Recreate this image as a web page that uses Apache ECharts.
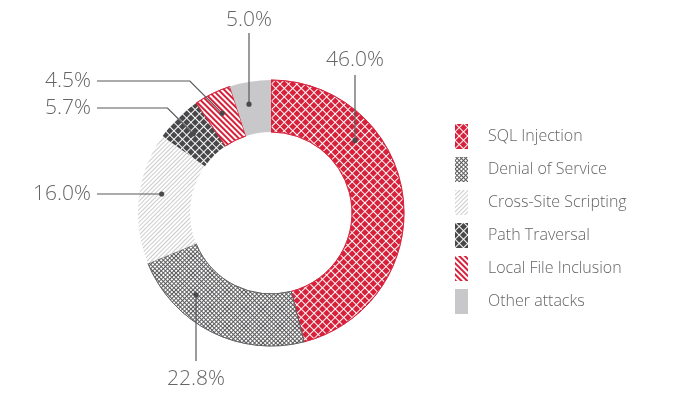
<!DOCTYPE html>
<html>
<head>
<meta charset="utf-8">
<script src="https://cdn.jsdelivr.net/npm/echarts@6/dist/echarts.min.js"></script>
<style>
  html, body { margin: 0; padding: 0; background: #fff; }
  #chart { width: 674px; height: 407px; }
</style>
</head>
<body>
<div id="chart"></div>
<script>
const categories = ['SQL Injection', 'Denial of Service', 'Cross-Site Scripting', 'Path Traversal', 'Local File Inclusion', 'Other attacks'];
const shares = [46.0, 22.8, 16.0, 5.7, 4.5, 5.0];
const shareLabels = ['46.0%', '22.8%', '16.0%', '5.7%', '4.5%', '5.0%'];

// ring geometry
const CX = 271, CY = 213, R_IN = 81, R_OUT = 133, R_DOT = 111;
const LINE_X = 97; // where the left-hand leader lines stop

// where each label sits and how its leader runs
const leaders = [
  { mode: 'up', x: 355, textY: 60, end: 75 },
  { mode: 'down', x: 196, textY: 379, end: 361 },
  { mode: 'left', textX: 91, y: 194 },
  { mode: 'diag', textX: 91, y: 108 },
  { mode: 'diag', textX: 91, y: 81 },
  { mode: 'up', x: 249, textY: 20, end: 33 }
];

const total = shares.reduce((a, b) => a + b, 0);
function midAngle(i) {
  let before = 0;
  for (let k = 0; k < i; k++) before += shares[k];
  return (before + shares[i] / 2) / total * 2 * Math.PI;
}

function leaderGeom(i) {
  const L = leaders[i];
  let dot, pts, label;
  if (L.mode === 'up' || L.mode === 'down') {
    const dx = L.x - CX;
    const h = Math.sqrt(R_DOT * R_DOT - dx * dx);
    dot = [L.x, L.mode === 'up' ? CY - h : CY + h];
    pts = [dot, [L.x, L.end]];
    label = { x: L.x, y: L.textY, align: 'center' };
  } else if (L.mode === 'left') {
    const dy = L.y - CY;
    dot = [CX - Math.sqrt(R_DOT * R_DOT - dy * dy), L.y];
    pts = [dot, [LINE_X, L.y]];
    label = { x: L.textX, y: L.y, align: 'right' };
  } else {
    const a = midAngle(i);
    dot = [CX + R_DOT * Math.sin(a), CY - R_DOT * Math.cos(a)];
    const elbowX = dot[0] - (dot[1] - L.y);
    pts = [dot, [elbowX, L.y], [LINE_X, L.y]];
    label = { x: L.textX, y: L.y, align: 'right' };
  }
  return { dot, pts, label };
}

const RED = '#d7203a';
const styles = [
  { color: '#ffffff', borderColor: RED, borderWidth: 0.8,
    decal: { symbol: 'rect', symbolSize: 1, color: RED, dashArrayX: [5, 1], dashArrayY: [5, 1], rotation: Math.PI / 4 } },
  { color: '#5b5b5d', borderColor: '#5b5b5d', borderWidth: 0.8,
    decal: { symbol: 'rect', symbolSize: 1, color: '#ffffff', dashArrayX: [2, 1], dashArrayY: [2, 1], rotation: Math.PI / 4 } },
  { color: '#ffffff',
    decal: { symbol: 'rect', symbolSize: 1, color: '#cccccc', dashArrayX: [1, 0], dashArrayY: [1, 2], rotation: -Math.PI / 4 } },
  { color: '#ffffff',
    decal: { symbol: 'rect', symbolSize: 1, color: '#48484a', dashArrayX: [5, 1], dashArrayY: [5, 1], rotation: Math.PI / 4 } },
  { color: '#ffffff', borderColor: RED, borderWidth: 0.8,
    decal: { symbol: 'rect', symbolSize: 1, color: RED, dashArrayX: [1, 0], dashArrayY: [1.5, 1.5], rotation: Math.PI / 4 } },
  { color: '#c8c8ca' }
];

const pieData = categories.map((name, i) => ({
  name: name,
  value: shares[i],
  itemStyle: styles[i]
}));

// leader lines and their end dots, drawn above the ring
const leaderMarks = [];
categories.forEach((_, i) => {
  const g = leaderGeom(i);
  leaderMarks.push({
    type: 'polyline',
    shape: { points: g.pts },
    style: { stroke: '#58595b', lineWidth: 1.2, fill: null },
    z: 100
  });
  leaderMarks.push({
    type: 'circle',
    shape: { cx: g.dot[0], cy: g.dot[1], r: 2.6 },
    style: { fill: '#4a4a4c' },
    z: 101
  });
});

const TEXT = '#646567';
const FONT = '"Open Sans", "Noto Sans", sans-serif';

const chart = echarts.init(document.getElementById('chart'), null, { renderer: 'canvas' });
chart.setOption({
  animation: false,
  backgroundColor: '#ffffff',
  legend: {
    orient: 'vertical',
    left: 455,
    top: 124,
    padding: 0,
    icon: 'rect',
    itemWidth: 13,
    itemHeight: 25,
    itemGap: 8,
    selectedMode: false,
    data: categories,
    itemStyle: { borderWidth: 0 },
    textStyle: { fontSize: 16, color: TEXT, fontFamily: FONT, fontWeight: 300, padding: [0, 0, 0, 15] }
  },
  graphic: leaderMarks,
  series: [{
    type: 'pie',
    center: [CX, CY],
    radius: [R_IN, R_OUT],
    startAngle: 90,
    clockwise: true,
    avoidLabelOverlap: false,
    silent: true,
    data: pieData,
    label: {
      show: true,
      position: 'outside',
      formatter: p => shareLabels[p.dataIndex],
      fontSize: 21,
      color: TEXT,
      fontFamily: FONT,
      fontWeight: 300
    },
    labelLine: { show: false },
    labelLayout: params => {
      const g = leaderGeom(params.dataIndex);
      return {
        x: g.label.x,
        y: g.label.y,
        align: g.label.align,
        verticalAlign: 'middle'
      };
    }
  }]
});
</script>
</body>
</html>
